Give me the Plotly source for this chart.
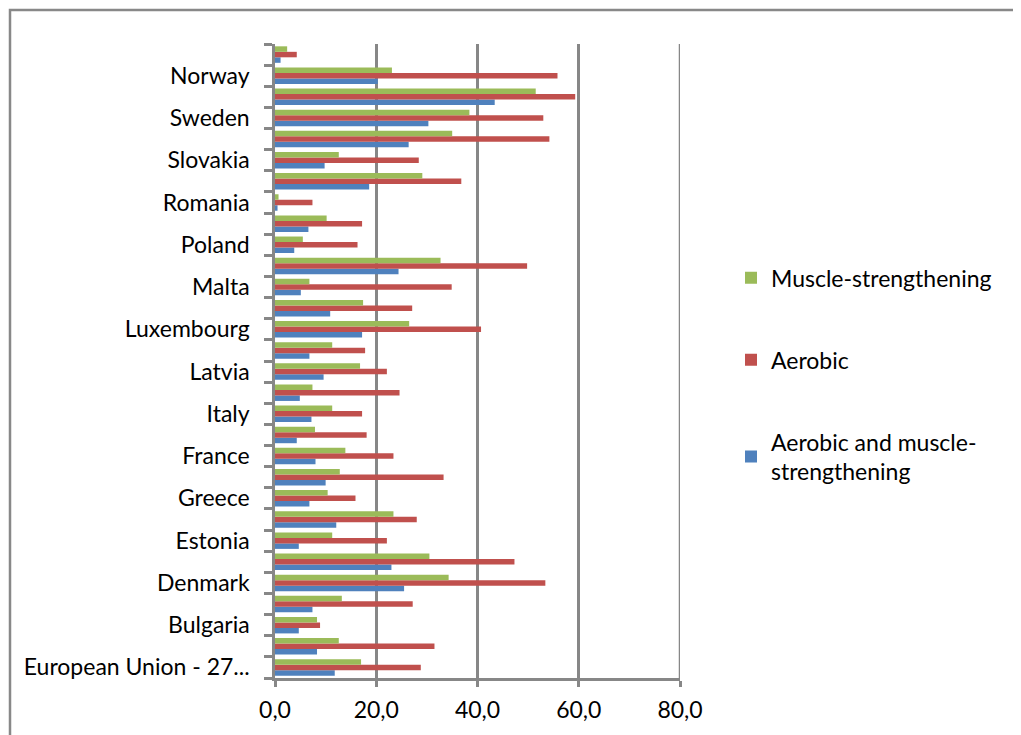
import plotly.graph_objects as go

categories = [
    "European Union - 27...", "Belgium", "Bulgaria", "Czech Republic", "Denmark",
    "Germany", "Estonia", "Ireland", "Greece", "Spain", "France", "Croatia",
    "Italy", "Cyprus", "Latvia", "Lithuania", "Luxembourg", "Hungary", "Malta",
    "Austria", "Poland", "Portugal", "Romania", "Slovenia", "Slovakia",
    "Finland", "Sweden", "Iceland", "Norway", "Turkey",
]

aerobic_and_muscle = [11.8, 8.3, 4.7, 7.4, 25.5, 23.0, 4.7, 12.1, 6.8, 10.0,
                      8.0, 4.3, 7.2, 4.9, 9.6, 6.8, 17.2, 10.9, 5.1, 24.4,
                      3.8, 6.6, 0.5, 18.6, 9.8, 26.4, 30.3, 43.4, 20.3, 1.1]
aerobic = [28.8, 31.5, 8.9, 27.2, 53.4, 47.3, 22.1, 28.0, 15.9, 33.3,
           23.4, 18.1, 17.2, 24.6, 22.1, 17.8, 40.7, 27.1, 34.9, 49.8,
           16.3, 17.2, 7.4, 36.8, 28.4, 54.2, 53.0, 59.3, 55.8, 4.3]
muscle = [17.0, 12.6, 8.3, 13.2, 34.3, 30.5, 11.3, 23.4, 10.4, 12.8,
          13.9, 7.9, 11.3, 7.4, 16.8, 11.3, 26.5, 17.4, 6.8, 32.7,
          5.5, 10.2, 0.7, 29.1, 12.6, 35.0, 38.4, 51.5, 23.1, 2.4]

series = [
    ("Aerobic and muscle-<br>strengthening", aerobic_and_muscle, "#4F81BD", 3),
    ("Aerobic", aerobic, "#C0504D", 2),
    ("Muscle-strengthening", muscle, "#9BBB59", 1),
]

x_ticks = [0, 20, 40, 60, 80]

positions = list(range(len(categories)))
label_pos = positions[::2]
label_text = categories[::2]

FONT = "Lato"
FS = 23
GRID = "#878787"

# page body has an 8px margin: screen coords = figure coords + 8
OFF = 8
PL, PR, PT, PB = 275, 680, 44, 680  # plot area in screen pixels
W, H = 1021 - OFF, 735 - OFF
PW, PH = PR - PL, PB - PT

fig = go.Figure()
for i, (name, vals, color, rank) in enumerate(series):
    fig.add_trace(go.Bar(
        x=vals, y=positions, orientation="h", name=name,
        marker=dict(color=color, line=dict(width=0)),
        legendgroup=f"g{i}", legendrank=rank,
    ))

fig.update_layout(
    width=W, height=H,
    margin=dict(l=PL - OFF, r=W - (PR - OFF), t=PT - OFF, b=H - (PB - OFF)),
    paper_bgcolor="white", plot_bgcolor="white",
    barmode="group", bargap=0.22, bargroupgap=0,
    font=dict(family=FONT, size=FS, color="black"),
    separators=", ",
    showlegend=True,
    legend=dict(
        x=(731 - PL) / PW, y=(PB - 257) / PH, xanchor="left", yanchor="top",
        traceorder="grouped", tracegroupgap=49,
        font=dict(family=FONT, size=FS, color="black"),
        itemwidth=30, bgcolor="rgba(0,0,0,0)",
    ),
    xaxis=dict(
        range=[0, x_ticks[-1]], tickvals=x_ticks, tickformat=".1f",
        showgrid=True, gridcolor=GRID, gridwidth=2.5,
        showline=True, linecolor=GRID, linewidth=2.5,
        ticks="outside", ticklen=6, tickcolor=GRID, tickwidth=2.5,
        zeroline=False, tickfont=dict(family=FONT, size=FS), ticklabelstandoff=4,
    ),
    yaxis=dict(
        range=[-0.5, 29.5], tickmode="array", tickvals=label_pos, ticktext=label_text,
        ticks="", showgrid=False, zeroline=False,
        showline=True, linecolor=GRID, linewidth=2.5,
        minor=dict(tick0=-0.5, dtick=1, ticks="outside", ticklen=8,
                   tickcolor=GRID, tickwidth=2.5, showgrid=False),
        tickfont=dict(family=FONT, size=FS), ticklabelstandoff=18,
    ),
    shapes=[
        dict(type="rect", xref="paper", yref="paper",
             x0=(10 - PL) / PW, x1=(1017 - PL) / PW,
             y0=(PB - 745) / PH, y1=(PB - 10) / PH,
             line=dict(color="#888888", width=2.5), fillcolor="rgba(0,0,0,0)",
             layer="below"),
        dict(type="line", xref="x", yref="paper",
             x0=x_ticks[-1], x1=x_ticks[-1], y0=0, y1=1,
             line=dict(color=GRID, width=2.5), layer="below"),
    ],
)

fig.write_html("out.html")
